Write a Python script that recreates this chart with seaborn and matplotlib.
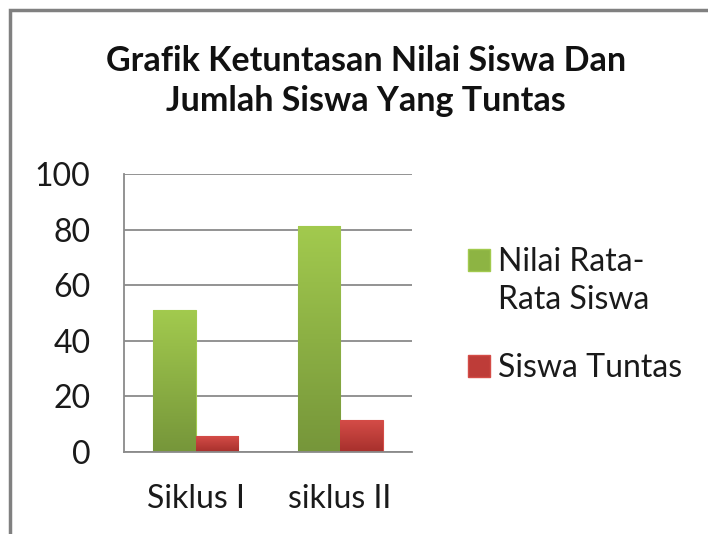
import numpy as np
import pandas as pd
import seaborn as sns
import matplotlib.pyplot as plt
from matplotlib.patches import Rectangle

# data
siklus = ["Siklus I", "siklus II"]
nilai_rata = [51.0, 81.4]
siswa_tuntas = [5.6, 11.4]
series = ["Nilai Rata-Rata Siswa", "Siswa Tuntas"]
y_ticks = [0, 20, 40, 60, 80, 100]

df = pd.DataFrame({
    "siklus": siklus * 2,
    "nilai": nilai_rata + siswa_tuntas,
    "seri": [series[0]] * 2 + [series[1]] * 2,
})

sns.set_theme(style = "white")
plt.rcParams["font.family"] = ["Lato", "DejaVu Sans"]

green = "#8db443"
red = "#be3c38"
grads = {green: ("#a2ca4e", "#76963a"), red: ("#d44c47", "#a7302c")}

fig = plt.figure(figsize = (7.08, 5.34), dpi = 100)
ax = fig.add_axes([0.175, 0.1536, 0.407, 0.5204])

sns.barplot(data = df, x = "siklus", y = "nilai", hue = "seri", palette = [green, red],
            width = 0.59, gap = 0, ax = ax, legend = False, saturation = 1)

# vertical gradient on each bar, like the office chart
for patch, col in zip(ax.patches, [green, green, red, red]):
    x0, y0 = patch.get_x(), patch.get_y()
    w, h = patch.get_width(), patch.get_height()
    top, bot = grads[col]
    cmap = sns.blend_palette([bot, top], as_cmap = True)
    grad = np.linspace(0, 1, 100).reshape(-1, 1)
    im = ax.imshow(grad, extent = [x0, x0 + w, y0, y0 + h], origin = "lower", cmap = cmap,
                   aspect = "auto", zorder = 2)
    im.set_clip_path(patch)
    patch.set_edgecolor(top)
    patch.set_linewidth(0.8)

ax.set_xlim(-0.5, 1.5)
ax.set_ylim(0, 100)
ax.set_yticks(y_ticks)
ax.set_xlabel("")
ax.set_ylabel("")
ax.yaxis.grid(True, color = "#8a8a8a", linewidth = 1.3)
ax.set_axisbelow(True)
for side in ["top", "right"]:
    ax.spines[side].set_visible(False)
for side in ["left", "bottom"]:
    ax.spines[side].set_color("#8a8a8a")
    ax.spines[side].set_linewidth(1.3)
ax.tick_params(axis = "y", length = 0, pad = 24, labelsize = 23, labelcolor = "#1a1a1a")
ax.tick_params(axis = "x", length = 0, pad = 23, labelsize = 23, labelcolor = "#1a1a1a")

fig.text(0.517, 0.849, "Grafik Ketuntasan Nilai Siswa Dan\nJumlah Siswa Yang Tuntas",
         ha = "center", va = "center", fontsize = 24.5, fontweight = "bold", linespacing = 1.3,
         color = "#111111")

# legend: the first name wraps onto two lines, marker sits on the first line
green_box = Rectangle((0, 0), 1, 1, facecolor = green, edgecolor = "#a2ca4e")
red_box = Rectangle((0, 0), 1, 1, facecolor = red, edgecolor = "#d44c47")
blank = Rectangle((0, 0), 1, 1, facecolor = "none", edgecolor = "none")
first_words = series[0].split("-")
leg_kw = dict(loc = "center left", frameon = False, fontsize = 23, handlelength = 0.68,
              handleheight = 0.68, handletextpad = 0.25, labelcolor = "#1a1a1a")
fig.legend([green_box, blank], [first_words[0] + "-", first_words[1]],
           bbox_to_anchor = (0.621, 0.474), labelspacing = 0.25, **leg_kw)
fig.legend([red_box], [series[1]], bbox_to_anchor = (0.621, 0.311), **leg_kw)

# outer chart border (cropped at right and bottom)
fig.add_artist(Rectangle((9.5 / 708, -0.1), 1.2, 1.1 - 9.5 / 534, transform = fig.transFigure,
                         fill = False, edgecolor = "#808080", linewidth = 2.5))

fig.savefig("out.png", dpi = 100)
